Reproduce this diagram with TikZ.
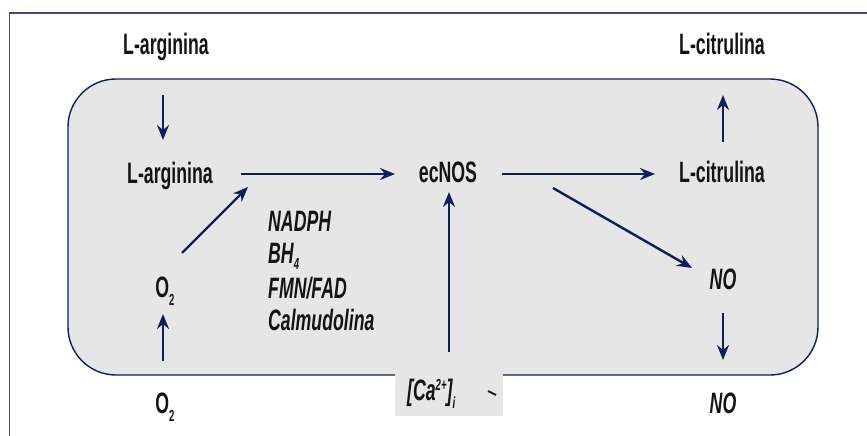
\documentclass[tikz,border=0pt]{standalone}
\usepackage{fontspec}
\setmainfont[FakeStretch=0.6]{Liberation Sans}
\usetikzlibrary{arrows.meta,calc}
\definecolor{navy}{HTML}{0E1F5E}
\definecolor{framecol}{HTML}{3A4C88}
\definecolor{boxgray}{HTML}{E6E6E6}
\newcommand{\subs}[2]{\smash{\raisebox{#1}{\fontsize{16}{16}\selectfont #2}}}
\tikzset{
  lbl/.style={inner sep=0pt, anchor=base, font=\fontsize{29.5}{32}\selectfont\bfseries, text=black!92},
  ilbl/.style={lbl, font=\fontsize{29.5}{32}\selectfont\bfseries\itshape},
  arr/.style={draw=navy, line width=2.4pt, -{Stealth[length=15pt,width=12pt,inset=5pt]}},
}
\begin{document}
\begin{tikzpicture}[x=1pt,y=-1pt]
\useasboundingbox (0,0) rectangle (867,436);
% outer frame
\draw[framecol, line width=1.4pt] (9.5,436) -- (9.5,13) -- (867,13);
% rounded box
\draw[navy, line width=1.4pt, fill=boxgray, rounded corners=48pt] (68,79) rectangle (818,375);
% Ca patch
\fill[boxgray] (395,373) rectangle (503,416);

% labels
\node[lbl] (larg0) at (166,55) {L-arginina};
\node[lbl] (lcit0) at (722,55) {L-citrulina};
\node[lbl] (larg) at (170,183) {L-arginina};
\node[lbl] (ecnos) at (448,182) {ecNOS};
\node[lbl] (lcit) at (722,182) {L-citrulina};
\node[lbl] (o2) at (165,297) {O\subs{-8pt}{2}};
\node[lbl] (o2b) at (165,413) {O\subs{-8pt}{2}};
\node[ilbl] (no) at (723,289) {NO};
\node[ilbl] (nob) at (723,413) {NO};
\node[ilbl, anchor=base west] (nadph) at (268,231) {NADPH};
\node[ilbl, anchor=base west] (bh) at (268,263) {BH\subs{-6pt}{4}};
\node[ilbl, anchor=base west] (fmn) at (268,298) {FMN/FAD};
\node[ilbl, anchor=base west] (calm) at (268,330) {Calmudolina};
\node[ilbl, anchor=base west] (ca) at (407,400) {[Ca\subs{10pt}{2+}]\subs{-8pt}{i}};
\draw[black!90, line width=2pt] (488,391) -- (496,395);

% arrows
\draw[arr] ($(larg0.base)+(-3,40)$) -- ($(larg.base)+(-7,-43)$);
\draw[arr] ($(larg.base)+(71,-9)$) -- ($(ecnos.base)+(-53,-8)$);
\draw[arr] ($(o2.base)+(17,-44)$) -- ($(larg.base)+(78,4)$);
\draw[arr] ($(ecnos.base)+(54,-8)$) -- ($(lcit.base)+(-67,-8)$);
\draw[arr] ($(ecnos.base)+(105,6)$) -- ($(no.base)+(-31,-21)$);
\draw[arr] ($(ca.base west)+(42,-48)$) -- ($(ecnos.base)+(1,10)$);
\draw[arr] ($(o2b.base)+(-2,-52)$) -- ($(o2.base)+(-2,17)$);
\draw[arr] ($(lcit.base)+(1,-40)$) -- ($(lcit0.base)+(1,40)$);
\draw[arr] ($(no.base)+(0,24)$) -- ($(nob.base)+(0,-53)$);
\end{tikzpicture}
\end{document}
